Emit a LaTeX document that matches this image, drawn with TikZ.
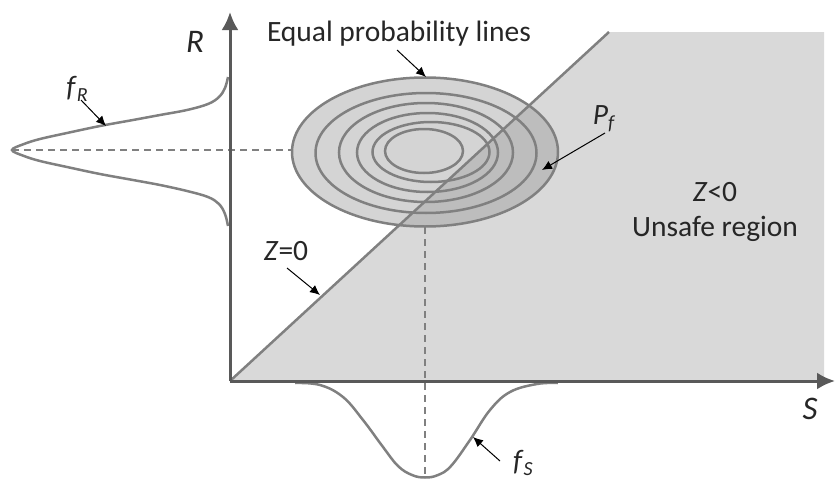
\documentclass[tikz,border=0pt]{standalone}
\usepackage{fontspec}
\setmainfont{Carlito}
\usetikzlibrary{arrows.meta}
\definecolor{axisgray}{HTML}{595959}
\definecolor{linegray}{HTML}{808080}
\definecolor{regiongray}{HTML}{D9D9D9}
\definecolor{ellgray}{HTML}{D4D4D4}
\definecolor{darkfill}{HTML}{BDBDBD}
\newcommand{\symsub}[2]{\textit{#1}\raisebox{-0.35ex}{\fontsize{20}{21}\selectfont\textit{#2}}}
\begin{document}
\begin{tikzpicture}[x=1pt,y=-1pt,
  lab/.style={font=\fontsize{29.5}{34}\selectfont, text=black!85, inner sep=0pt},
  big/.style={font=\fontsize{33}{36}\selectfont\itshape, text=black!85, inner sep=0pt},
  axisline/.style={draw=axisgray, line width=3pt, -{Latex[length=18pt,width=17pt]}},
  curve/.style={draw=linegray, line width=2.5pt},
  dashline/.style={draw=linegray, line width=1.5pt, dash pattern=on 7pt off 5pt},
  pointer/.style={draw=black, line width=1pt, -{Latex[length=10pt,width=9pt]}}]
\useasboundingbox (0,0) rectangle (835,479);
% coordinates
\coordinate (O) at (230,381);
\coordinate (Rtip) at (230,12);
\coordinate (Stip) at (835,381);
\coordinate (Ztop) at (609,32);
\coordinate (C) at (425,152);
% unsafe region
\fill[regiongray] (O) -- (Ztop) -- (824,32) -- (824,381) -- cycle;
% ellipses fill
\fill[ellgray] (C) ellipse [x radius=133, y radius=74.5];
\begin{scope}
  \clip (O) -- (Ztop) -- (835,32) -- (835,381) -- cycle;
  \fill[darkfill] (C) ellipse [x radius=133, y radius=74.5];
\end{scope}
% dashed guides
\draw[dashline] (12,150) -- (293,150);
\draw[dashline] (425,227) -- (425,478);
% ellipses
\draw[curve] (C) ellipse [x radius=133, y radius=74.5];
\draw[curve] (426,153) ellipse [x radius=110.5, y radius=60];
\draw[curve] (426,152.5) ellipse [x radius=87, y radius=49.5];
\draw[curve] (427.5,152.5) ellipse [x radius=70.5, y radius=39.5];
\draw[curve] (431,152) ellipse [x radius=58.5, y radius=30];
\draw[curve] (424,151) ellipse [x radius=39, y radius=22];
% limit state line
\draw[curve] (O) -- (Ztop);
% density curves
\draw[curve] plot[smooth, tension=0.6] coordinates {(228,77) (225,88) (219,97) (208,104) (187,110) (160,115) (133,120) (100,126) (67,133) (40,139) (24,144) (12,150) (24,156) (40,161) (67,167) (100,174) (133,180) (160,185) (187,191) (208,197) (219,204) (225,214) (228,226)};
\draw[curve] plot[smooth, tension=0.65] coordinates {(295,383) (320,385) (343,397) (363,420) (383,447) (398,466) (412,475) (425,477.5) (438,475) (451,466) (470,440) (490,410) (510,392) (537,384) (558,383)};
% axes
\draw[axisline] (O) -- (Rtip);
\draw[axisline] (O) -- (Stip);
% labels
\node[big] (Rlab) at (195,42) {R};
\node[big] (Slab) at (810,409) {S};
\node[lab] (eq) at (399,34) {Equal probability lines};
\node[lab] (fR) at (77,89) {\symsub{f}{R}};
\node[lab] (fS) at (523,463) {\symsub{f}{S}};
\node[lab] (Pf) at (604,119) {\symsub{P}{f}};
\node[lab] (Z0) at (286,251) {\textit{Z}=0};
\node[lab] (unsafe) at (715,212) {\begin{tabular}{@{}c@{}}\textit{Z}<0\\[1pt] Unsafe region\end{tabular}};
% pointer coordinates
\coordinate (eqs) at (397,50);  \coordinate (eqt) at (426,77);
\coordinate (fRs) at (81,100);  \coordinate (fRt) at (106,126);
\coordinate (Pfs) at (605,133); \coordinate (Pft) at (542,170);
\coordinate (Z0s) at (287,268); \coordinate (Z0t) at (320,295);
\coordinate (fSs) at (500,461); \coordinate (fSt) at (473,437);
\draw[pointer] (eqs) -- (eqt);
\draw[pointer] (fRs) -- (fRt);
\draw[pointer] (Pfs) -- (Pft);
\draw[pointer] (Z0s) -- (Z0t);
\draw[pointer] (fSs) -- (fSt);
\end{tikzpicture}
\end{document}
